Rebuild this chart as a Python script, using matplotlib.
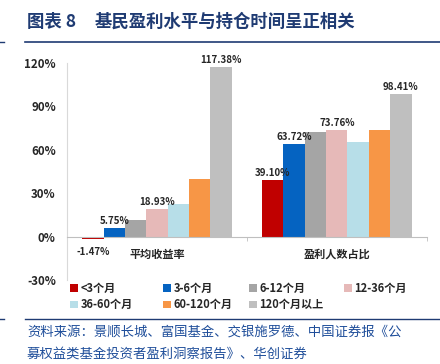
import matplotlib
matplotlib.use("Agg")
import matplotlib.pyplot as plt
import numpy as np
from matplotlib.lines import Line2D

plt.rcParams['font.family'] = ['Noto Sans CJK SC', 'DejaVu Sans']

categories = ["平均收益率", "盈利人数占比"]
series = ["<3个月", "3-6个月", "6-12个月", "12-36个月", "36-60个月", "60-120个月", "120个月以上"]
values = [
    [-1.47, 39.10],
    [5.75, 63.72],
    [11.7, 72.6],
    [18.93, 73.76],
    [22.5, 65.3],
    [40.0, 74.0],
    [117.38, 98.41],
]
labels = [
    ["-1.47%", "39.10%"],
    ["5.75%", "63.72%"],
    [None, None],
    ["18.93%", "73.76%"],
    [None, None],
    [None, None],
    ["117.38%", "98.41%"],
]
colors = ["#C00000", "#0563C1", "#A5A5A5", "#E6B9B8", "#B7DEE8", "#F79646", "#BFBFBF"]
yticks = [-30, 0, 30, 60, 90, 120]

fig = plt.figure(figsize=(4.4, 3.64), dpi=100)
ax = fig.add_axes([0.152, 0.231, 0.818, 0.596])

for sp in ["top", "right"]:
    ax.spines[sp].set_visible(False)
ax.spines["bottom"].set_position(("data", 0))
ax.spines["bottom"].set_color("#BFBFBF")
ax.spines["left"].set_color("#D9D9D9")
ax.spines["bottom"].set_zorder(3)

n = len(series)
group_w = 0.83
bw = group_w / n
x = np.arange(len(categories))
for i, (s, vals, c) in enumerate(zip(series, values, colors)):
    pos = x - group_w / 2 + bw * (i + 0.5)
    bars = ax.bar(pos, vals, width=bw, color=c, label=s, zorder=2)
    for b, v, lab in zip(bars, vals, labels[i]):
        if lab is None:
            continue
        if v >= 0:
            ax.text(b.get_x() + b.get_width() / 2, v + 1.5, lab, ha="center", va="bottom",
                    fontsize=7, fontweight="bold", color="#262626")
        else:
            ax.text(b.get_x() + b.get_width() / 2, -7, lab, ha="center", va="top",
                    fontsize=7, fontweight="bold", color="#262626")

ax.set_xlim(-0.5, 1.5)
ax.set_ylim(-30, 120)
ax.set_yticks(yticks)
ax.set_yticklabels([f"{t}%" for t in yticks], fontsize=8.3, fontweight="bold", color="#262626")
ax.tick_params(axis="y", length=0, pad=8)
ax.set_xticks(x)
ax.set_xticklabels(categories, fontsize=8, fontweight="bold", color="#262626")
ax.tick_params(axis="x", which="major", length=0, pad=8)
ax.set_xticks([0.5, 1.5], minor=True)
ax.tick_params(axis="x", which="minor", length=3, color="#BFBFBF", direction="out")

# legend: 4 fixed columns, filled row-wise
handles, hl = ax.get_legend_handles_labels()
col_x = [70, 163, 249, 344]
for ci, cx in enumerate(col_x):
    idx = [k for k in (ci, ci + 4) if k < len(handles)]
    leg = fig.legend([handles[k] for k in idx], [hl[k] for k in idx], ncol=1,
                     loc="upper left", bbox_to_anchor=(cx / 440, 1 - 282 / 364),
                     frameon=False, prop={"size": 8, "weight": "bold"},
                     handlelength=0.7, handleheight=0.7, handletextpad=0.25,
                     labelspacing=0.3, borderaxespad=0, borderpad=0)
    for t in leg.get_texts():
        t.set_color("#262626")

# title and decoration
title_color = "#1F3B73"
fig.text(27 / 440, 1 - 22 / 364, "图表 8", fontsize=12.5,
         fontweight="bold", color=title_color, va="center", ha="left")
fig.text(95 / 440, 1 - 22 / 364, "基民盈利水平与持仓时间呈正相关", fontsize=12.5,
         fontweight="bold", color=title_color, va="center", ha="left")
fig.add_artist(Line2D([25 / 440, 1], [1 - 42 / 364] * 2, color=title_color, lw=1.2))
fig.add_artist(Line2D([0, 4 / 440], [1 - 42 / 364] * 2, color=title_color, lw=1.0))
fig.add_artist(Line2D([25 / 440, 1], [1 - 319 / 364] * 2, color=title_color, lw=1.0))
fig.add_artist(Line2D([0, 4 / 440], [1 - 319 / 364] * 2, color=title_color, lw=1.0))
fig.text(27 / 440, 1 - 332 / 364,
         "资料来源：景顺长城、富国基金、交银施罗德、中国证券报《公",
         fontsize=9.6, style="italic", color="#1F4E9A", va="center", ha="left")
fig.text(27 / 440, 1 - 354 / 364,
         "募权益类基金投资者盈利洞察报告》、华创证券",
         fontsize=9.6, style="italic", color="#1F4E9A", va="center", ha="left")

fig.savefig("out.png", dpi=100)
